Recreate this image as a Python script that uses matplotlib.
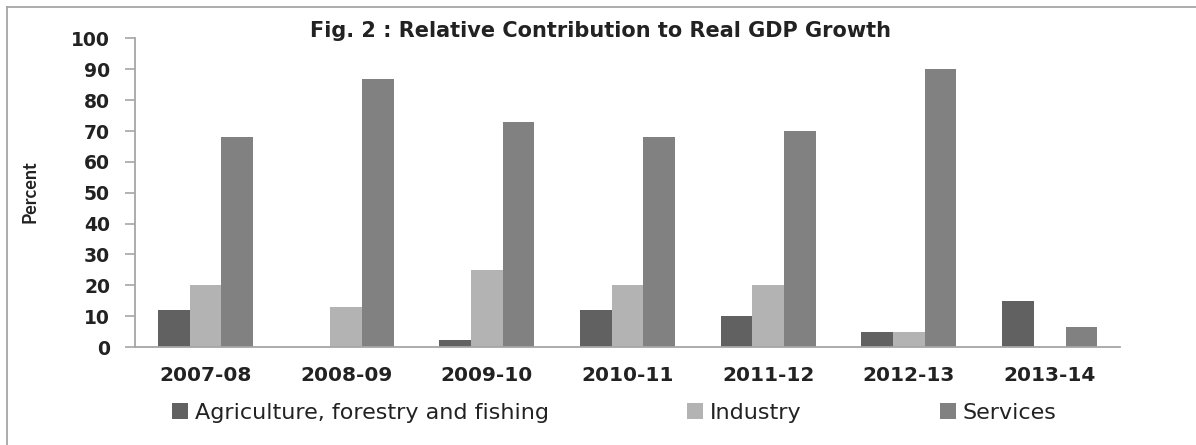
import matplotlib.pyplot as plt
import numpy as np
from matplotlib.lines import Line2D

anios = ['2007-08', '2008-09', '2009-10', '2010-11', '2011-12', '2012-13', '2013-14']
agricultura = [12, 0, 2.2, 12, 10, 5, 15]
industria = [20, 13, 25, 20, 20, 5, 0]
servicios = [68, 87, 73, 68, 70, 90, 6.5]

etiquetas = ['Agriculture, forestry and fishing', 'Industry', 'Services']
colores = ['#616161', '#b3b3b3', '#818181']
gris = '#a6a6a6'

fig = plt.figure(figsize=(11.96, 4.45), dpi=100)
ax = fig.add_axes([0.1129, 0.2202, 0.8236, 0.6933])

x = np.arange(len(anios))
ancho = 0.225
ax.bar(x - ancho, agricultura, ancho, color=colores[0], label=etiquetas[0])
ax.bar(x, industria, ancho, color=colores[1], label=etiquetas[1])
ax.bar(x + ancho, servicios, ancho, color=colores[2], label=etiquetas[2])

ax.set_xlim(-0.5, len(anios) - 0.5)
ax.set_ylim(0, 100)
ax.set_yticks(range(0, 101, 10))
ax.set_xticks(x)
ax.set_xticklabels(anios)

for s in ['top', 'right']:
    ax.spines[s].set_visible(False)
for s in ['left', 'bottom']:
    ax.spines[s].set_color(gris)
    ax.spines[s].set_linewidth(1.3)

ax.tick_params(axis='y', direction='out', length=7, width=1.2, color=gris, pad=11,
               labelsize=13.5)
ax.tick_params(axis='x', length=0, pad=14, labelsize=14.5)
for t in ax.get_yticklabels() + ax.get_xticklabels():
    t.set_fontweight('bold')
    t.set_color('#222222')

fig.text(0.025, 0.569, 'Percent', rotation=90, ha='center', va='center',
         fontsize=13, fontweight='bold', family='Lato', color='#222222')

fig.text(0.5025, 0.93, 'Fig. 2 : Relative Contribution to Real GDP Growth',
         ha='center', va='center', fontsize=15, fontweight='bold', color='#222222')

fig.legend(loc='center left', bbox_to_anchor=(0.144, 0.072), ncol=3, frameon=False,
           fontsize=16, handlelength=0.72, handleheight=0.72, handletextpad=0.32,
           columnspacing=6.2, borderpad=0, borderaxespad=0, labelcolor='#222222')

# marco de la figura (solo arriba e izquierda)
fig.add_artist(Line2D([7 / 1196, 1], [1 - 7 / 445, 1 - 7 / 445], color=gris, lw=1.3))
fig.add_artist(Line2D([7 / 1196, 7 / 1196], [0, 1 - 7 / 445], color=gris, lw=1.3))

fig.savefig('out.png', dpi=100)
